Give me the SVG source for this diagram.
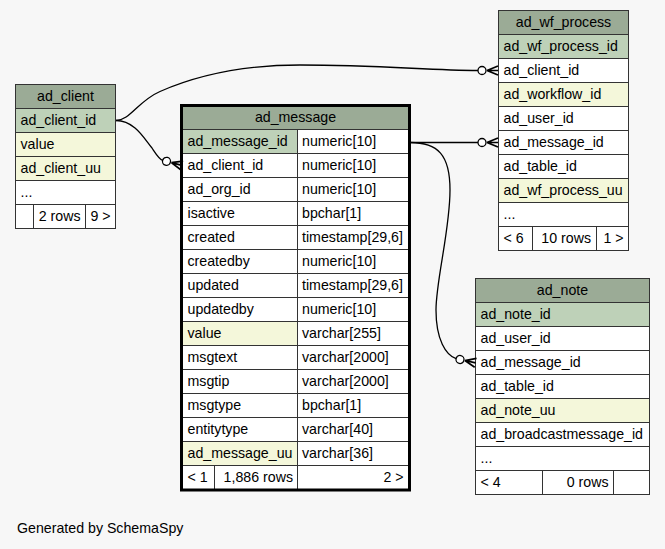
<svg xmlns="http://www.w3.org/2000/svg" width="665" height="549" viewBox="0 0 665 549">
<style>
text{font-family:"Liberation Sans",Arial,Helvetica,sans-serif;font-size:14.2px;fill:#000}
.h{fill:#9bab96}.pk{fill:#bed1b8}.ix{fill:#f4f7da}.w{fill:#fff}
.c{text-anchor:middle}.r{text-anchor:end}
.g{stroke:#333;stroke-width:1;fill:none}
.thick{stroke:#000;stroke-width:3;fill:none}
.edge{fill:none;stroke:#000;stroke-width:1.3}
</style>
<defs>
<g id="crowodot">
<circle cx="0" cy="0" r="4" fill="#fff" stroke="#000" stroke-width="1.3"/>
<path d="M5,0 L16,-4.5 M5,0 L16,0 M5,0 L16,4.5" stroke="#000" stroke-width="1.7" fill="none"/>
</g>
</defs>
<rect x="0" y="0" width="665" height="549" fill="#f7f7f7"/>

<g id="ad_client">
<rect x="15.5" y="84.5" width="100" height="24" class="h"/>
<rect x="15.5" y="108.5" width="100" height="24" class="pk"/>
<rect x="15.5" y="132.5" width="100" height="48" class="ix"/>
<rect x="15.5" y="180.5" width="100" height="48" class="w"/>
<rect x="15.5" y="84.5" width="100" height="144" class="g"/>
<path class="g" d="M15.5,108.5H115.5M15.5,132.5H115.5M15.5,156.5H115.5M15.5,180.5H115.5M15.5,204.5H115.5M33.5,204.5V228.5M85.5,204.5V228.5"/>
<text x="65.5" y="100.5" class="c">ad_client</text>
<text x="20.5" y="124.5">ad_client_id</text>
<text x="20.5" y="148.5">value</text>
<text x="20.5" y="172.5">ad_client_uu</text>
<text x="20.5" y="196.5">...</text>
<text x="80.5" y="220.5" class="r">2 rows</text>
<text x="110.5" y="220.5" class="r">9 &gt;</text>
</g>

<g id="ad_message">
<rect x="183" y="107" width="225" height="22.5" class="h"/>
<rect x="183" y="129.5" width="225" height="360" class="w"/>
<rect x="183" y="129.5" width="114.5" height="24" class="pk"/>
<rect x="183" y="321.5" width="114.5" height="24" class="ix"/>
<rect x="183" y="441.5" width="114.5" height="24" class="ix"/>
<path class="g" d="M183,129.5H408M183,153.5H408M183,177.5H408M183,201.5H408M183,225.5H408M183,249.5H408M183,273.5H408M183,297.5H408M183,321.5H408M183,345.5H408M183,369.5H408M183,393.5H408M183,417.5H408M183,441.5H408M183,465.5H408M297.5,129.5V489.5M214.5,465.5V489.5"/>
<rect x="181.5" y="105.5" width="228" height="384.5" class="thick"/>
<text x="295.5" y="122" class="c">ad_message</text>
<text x="187.5" y="145.5">ad_message_id</text><text x="302" y="145.5">numeric[10]</text>
<text x="187.5" y="169.5">ad_client_id</text><text x="302" y="169.5">numeric[10]</text>
<text x="187.5" y="193.5">ad_org_id</text><text x="302" y="193.5">numeric[10]</text>
<text x="187.5" y="217.5">isactive</text><text x="302" y="217.5">bpchar[1]</text>
<text x="187.5" y="241.5">created</text><text x="302" y="241.5">timestamp[29,6]</text>
<text x="187.5" y="265.5">createdby</text><text x="302" y="265.5">numeric[10]</text>
<text x="187.5" y="289.5">updated</text><text x="302" y="289.5">timestamp[29,6]</text>
<text x="187.5" y="313.5">updatedby</text><text x="302" y="313.5">numeric[10]</text>
<text x="187.5" y="337.5">value</text><text x="302" y="337.5">varchar[255]</text>
<text x="187.5" y="361.5">msgtext</text><text x="302" y="361.5">varchar[2000]</text>
<text x="187.5" y="385.5">msgtip</text><text x="302" y="385.5">varchar[2000]</text>
<text x="187.5" y="409.5">msgtype</text><text x="302" y="409.5">bpchar[1]</text>
<text x="187.5" y="433.5">entitytype</text><text x="302" y="433.5">varchar[40]</text>
<text x="187.5" y="457.5">ad_message_uu</text><text x="302" y="457.5">varchar[36]</text>
<text x="187.5" y="481.5">&lt; 1</text>
<text x="293" y="481.5" class="r">1,886 rows</text>
<text x="403.5" y="481.5" class="r">2 &gt;</text>
</g>

<g id="ad_wf_process">
<rect x="498.5" y="10.5" width="130" height="24" class="h"/>
<rect x="498.5" y="34.5" width="130" height="24" class="pk"/>
<rect x="498.5" y="58.5" width="130" height="24" class="w"/>
<rect x="498.5" y="82.5" width="130" height="24" class="ix"/>
<rect x="498.5" y="106.5" width="130" height="72" class="w"/>
<rect x="498.5" y="178.5" width="130" height="24" class="ix"/>
<rect x="498.5" y="202.5" width="130" height="48" class="w"/>
<rect x="498.5" y="10.5" width="130" height="240" class="g"/>
<path class="g" d="M498.5,34.5H628.5M498.5,58.5H628.5M498.5,82.5H628.5M498.5,106.5H628.5M498.5,130.5H628.5M498.5,154.5H628.5M498.5,178.5H628.5M498.5,202.5H628.5M498.5,226.5H628.5M532.5,226.5V250.5M596.5,226.5V250.5"/>
<text x="563.5" y="26.5" class="c">ad_wf_process</text>
<text x="503.5" y="50.5">ad_wf_process_id</text>
<text x="503.5" y="74.5">ad_client_id</text>
<text x="503.5" y="98.5">ad_workflow_id</text>
<text x="503.5" y="122.5">ad_user_id</text>
<text x="503.5" y="146.5">ad_message_id</text>
<text x="503.5" y="170.5">ad_table_id</text>
<text x="503.5" y="194.5">ad_wf_process_uu</text>
<text x="503.5" y="218.5">...</text>
<text x="503.5" y="242.5">&lt; 6</text>
<text x="591" y="242.5" class="r">10 rows</text>
<text x="623.5" y="242.5" class="r">1 &gt;</text>
</g>

<g id="ad_note">
<rect x="475.5" y="278.5" width="174" height="24" class="h"/>
<rect x="475.5" y="302.5" width="174" height="24" class="pk"/>
<rect x="475.5" y="326.5" width="174" height="72" class="w"/>
<rect x="475.5" y="398.5" width="174" height="24" class="ix"/>
<rect x="475.5" y="422.5" width="174" height="72" class="w"/>
<rect x="475.5" y="278.5" width="174" height="216" class="g"/>
<path class="g" d="M475.5,302.5H649.5M475.5,326.5H649.5M475.5,350.5H649.5M475.5,374.5H649.5M475.5,398.5H649.5M475.5,422.5H649.5M475.5,446.5H649.5M475.5,470.5H649.5M542.5,470.5V494.5M613.5,470.5V494.5"/>
<text x="562.5" y="294.5" class="c">ad_note</text>
<text x="480.5" y="318.5">ad_note_id</text>
<text x="480.5" y="342.5">ad_user_id</text>
<text x="480.5" y="366.5">ad_message_id</text>
<text x="480.5" y="390.5">ad_table_id</text>
<text x="480.5" y="414.5">ad_note_uu</text>
<text x="480.5" y="438.5">ad_broadcastmessage_id</text>
<text x="480.5" y="462.5">...</text>
<text x="480.5" y="486.5">&lt; 4</text>
<text x="608.5" y="486.5" class="r">0 rows</text>
</g>

<g id="connectors">
<path class="edge" d="M116,120.5 C130,120.5 138,101 160,91.5 C200,74 250,65 300,65 C380,65 430,70.5 478,70.5"/>
<use href="#crowodot" transform="translate(482,70.5)"/>
<path class="edge" d="M116,120.5 C135,120.5 145,140 152,148 C156,154 159,159 162.6,160.3"/>
<use href="#crowodot" transform="translate(166.5,161.3) rotate(15)"/>
<path class="edge" d="M410,142.5 L478,142.5"/>
<use href="#crowodot" transform="translate(482,142.5)"/>
<path class="edge" d="M410,142.5 C438,142.5 450,155 450,190 C450,230 436,280 436,310 C436,340 446,355 456.1,358.7"/>
<use href="#crowodot" transform="translate(460,359.5) rotate(12)"/>
</g>

<text x="17" y="533">Generated by SchemaSpy</text>
</svg>
